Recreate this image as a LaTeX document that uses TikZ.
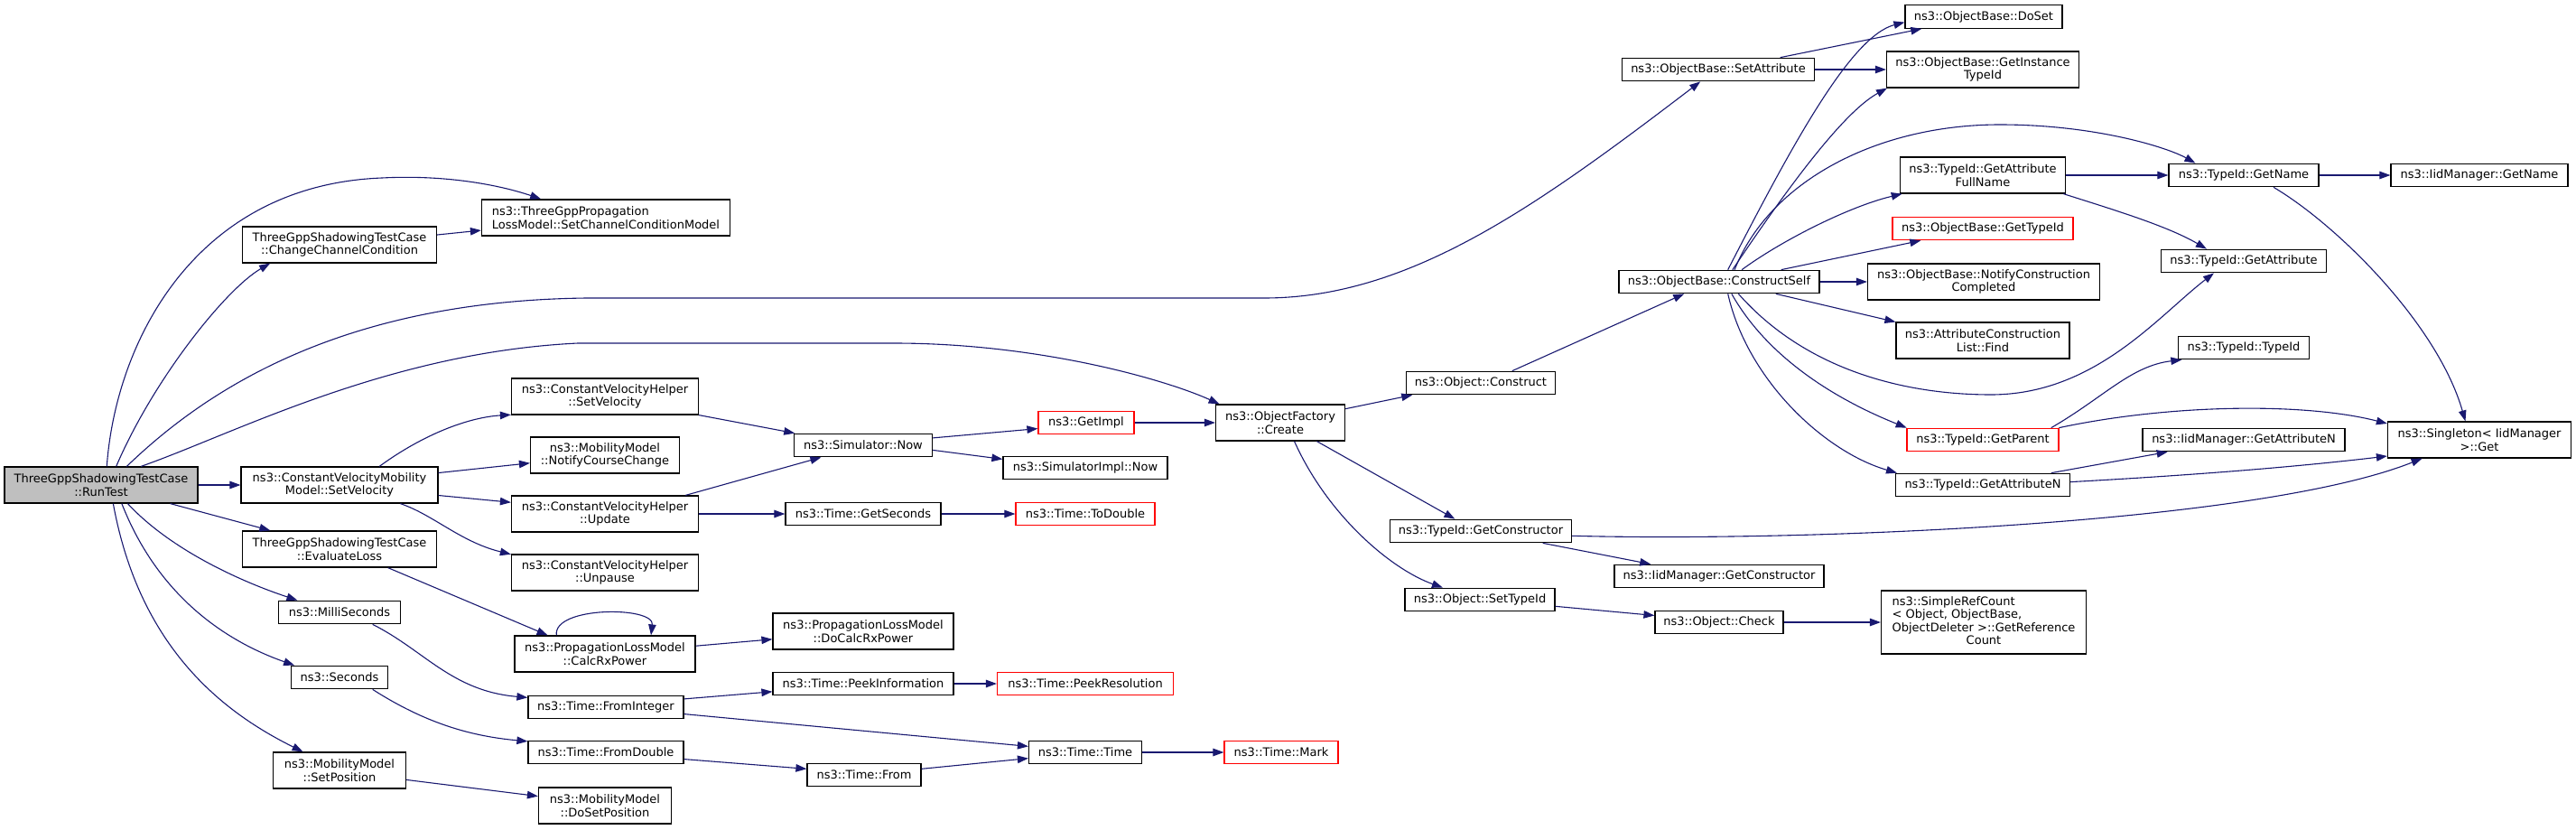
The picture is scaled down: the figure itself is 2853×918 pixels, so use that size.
\documentclass[tikz,border=0pt]{standalone}
\usepackage{fontspec}
\setmainfont{DejaVu Sans}
\usetikzlibrary{arrows.meta}
\definecolor{callblue}{RGB}{25,25,112}
\definecolor{rootgray}{RGB}{191,191,191}
\definecolor{missred}{RGB}{255,0,0}

\begin{document}
\begin{tikzpicture}[x=1pt, y=-1pt, every node/.style={font=\fontsize{13}{14.5}\selectfont}]
\tikzset{
    fnbox/.style={draw=black, line width=1.2pt, fill=white, inner xsep=2pt, inner ysep=2pt, minimum height=25.5pt, align=center},
    twoline/.style={fnbox, minimum height=40pt},
    rootfn/.style={twoline, fill=rootgray},
    missingfn/.style={fnbox, draw=missred},
    call/.style={callblue, line width=1.1pt, -{Triangle[length=12pt, width=8.5pt]}}
}
\useasboundingbox (0,0) rectangle (2853,918);

% Caller and its direct callees
\node[rootfn, minimum width=214pt] (rt) at (112,537) {ThreeGppShadowingTestCase\\::RunTest};
\node[twoline, minimum width=215pt] (ccc) at (376,271) {ThreeGppShadowingTestCase\\::ChangeChannelCondition};
\node[twoline, minimum width=218pt] (cvmm) at (376,537) {ns3::ConstantVelocityMobility\\Model::SetVelocity};
\node[twoline, minimum width=215pt] (evl) at (376,608) {ThreeGppShadowingTestCase\\::EvaluateLoss};
\node[fnbox, minimum width=135pt] (ms) at (376,678) {ns3::MilliSeconds};
\node[fnbox, minimum width=107pt] (sec) at (376,750) {ns3::Seconds};
\node[twoline, minimum width=147pt] (sp) at (376,853) {ns3::MobilityModel\\::SetPosition};

% Second level
\node[twoline, minimum width=275pt, align=left] (sccm) at (671,241) {ns3::ThreeGppPropagation\\LossModel::SetChannelConditionModel};
\node[twoline, minimum width=207pt] (cvhsv) at (670,439) {ns3::ConstantVelocityHelper\\::SetVelocity};
\node[twoline, minimum width=165pt] (ncc) at (670,504) {ns3::MobilityModel\\::NotifyCourseChange};
\node[twoline, minimum width=207pt] (cvhu) at (670,569) {ns3::ConstantVelocityHelper\\::Update};
\node[twoline, minimum width=207pt] (cvhup) at (670,634) {ns3::ConstantVelocityHelper\\::Unpause};
\node[twoline, minimum width=200pt] (crx) at (670,724) {ns3::PropagationLossModel\\::CalcRxPower};
\node[fnbox, minimum width=172pt] (fi) at (671,783) {ns3::Time::FromInteger};
\node[fnbox, minimum width=172pt] (fd) at (671,833) {ns3::Time::FromDouble};
\node[twoline, minimum width=147pt] (dsp) at (670,892) {ns3::MobilityModel\\::DoSetPosition};

% Third level
\node[fnbox, minimum width=153pt] (sn) at (956,493) {ns3::Simulator::Now};
\node[fnbox, minimum width=172pt] (gs) at (956,569) {ns3::Time::GetSeconds};
\node[twoline, minimum width=200pt] (dcrx) at (956,699) {ns3::PropagationLossModel\\::DoCalcRxPower};
\node[fnbox, minimum width=200pt] (pi) at (956,757) {ns3::Time::PeekInformation};
\node[fnbox, minimum width=126pt] (tf) at (957,858) {ns3::Time::From};

% Fourth level
\node[missingfn, minimum width=106pt] (gi) at (1203,468) {ns3::GetImpl};
\node[fnbox, minimum width=182pt] (sin) at (1202,518) {ns3::SimulatorImpl::Now};
\node[missingfn, minimum width=154pt] (td) at (1202,569) {ns3::Time::ToDouble};
\node[missingfn, minimum width=195pt] (pr) at (1202,757) {ns3::Time::PeekResolution};
\node[fnbox, minimum width=125pt] (tt) at (1202,833) {ns3::Time::Time};
\node[missingfn, minimum width=126pt] (tm) at (1419,833) {ns3::Time::Mark};
\node[twoline, minimum width=143pt] (ofc) at (1418,468) {ns3::ObjectFactory\\::Create};

% Object construction
\node[fnbox, minimum width=165pt] (oc) at (1640,424) {ns3::Object::Construct};
\node[fnbox, minimum width=201pt] (gc) at (1640,588) {ns3::TypeId::GetConstructor};
\node[fnbox, minimum width=166pt] (st) at (1639,664) {ns3::Object::SetTypeId};
\node[fnbox, minimum width=213pt] (sa) at (1903,77) {ns3::ObjectBase::SetAttribute};
\node[fnbox, minimum width=222pt] (cs) at (1904,312) {ns3::ObjectBase::ConstructSelf};
\node[fnbox, minimum width=232pt] (igc) at (1904,638) {ns3::IidManager::GetConstructor};
\node[fnbox, minimum width=142pt] (ck) at (1904,689) {ns3::Object::Check};

% ObjectBase and TypeId helpers
\node[fnbox, minimum width=174pt] (ds) at (2197,18.5) {ns3::ObjectBase::DoSet};
\node[twoline, minimum width=213pt] (git) at (2196,77) {ns3::ObjectBase::GetInstance\\TypeId};
\node[twoline, minimum width=183pt] (gafn) at (2196,194) {ns3::TypeId::GetAttribute\\FullName};
\node[missingfn, minimum width=200pt] (gtid) at (2196,253) {ns3::ObjectBase::GetTypeId};
\node[twoline, minimum width=257pt] (ncd) at (2197,312) {ns3::ObjectBase::NotifyConstruction\\Completed};
\node[twoline, minimum width=192pt] (acl) at (2196,377) {ns3::AttributeConstruction\\List::Find};
\node[missingfn, minimum width=168pt] (gp) at (2196,487) {ns3::TypeId::GetParent};
\node[fnbox, minimum width=193pt] (gan) at (2196,537) {ns3::TypeId::GetAttributeN};
\node[fnbox, minimum width=227pt, minimum height=70pt] (src) at (2197,689) {\begin{tabular}{@{}l@{}}ns3::SimpleRefCount\\< Object, ObjectBase,\\\multicolumn{1}{@{}c@{}}{ObjectDeleter >::GetReference}\\\multicolumn{1}{@{}c@{}}{Count}\end{tabular}};
\node[fnbox, minimum width=166pt] (gn) at (2485,194) {ns3::TypeId::GetName};
\node[fnbox, minimum width=183pt] (ga) at (2485,289) {ns3::TypeId::GetAttribute};
\node[fnbox, minimum width=145pt] (tid) at (2485,385) {ns3::TypeId::TypeId};
\node[fnbox, minimum width=224pt] (igan) at (2485,487) {ns3::IidManager::GetAttributeN};
\node[fnbox, minimum width=196pt] (ign) at (2746,194) {ns3::IidManager::GetName};
\node[twoline, minimum width=203pt] (sg) at (2746,487) {ns3::Singleton< IidManager\\>::Get};

% Calls out of RunTest
\draw[call] (rt.73) .. controls (128,380) and (215,205) .. (423,197) .. controls (500,193) and (560,207) .. (sccm.164);
\draw[call] (rt.51) .. controls (170,420) and (250,320) .. (ccc.195);
\draw[call] (rt.36) .. controls (230,430) and (380,333) .. (650,330) -- (1400,330) .. controls (1560,330) and (1700,230) .. (sa.214);
\draw[call] (rt.25) .. controls (260,480) and (430,390) .. (640,380) -- (990,380) .. controls (1150,380) and (1290,420) .. (ofc.163);
\draw[call] (rt) -- (cvmm);
\draw[call] (rt) -- (evl);
\draw[call] (rt.325) .. controls (190,610) and (270,645) .. (ms.164);
\draw[call] (rt.318) .. controls (175,660) and (250,710) .. (sec.165);
\draw[call] (rt.303) .. controls (155,720) and (250,790) .. (sp.153);
\draw[call] (ccc) -- (sccm);

% Mobility and time
\draw[call] (cvmm.25) .. controls (470,480) and (520,462) .. (cvhsv.191);
\draw[call] (cvmm.7) -- (ncc.186);
\draw[call] (cvmm.354) -- (cvhu.173);
\draw[call] (cvmm.343) .. controls (480,570) and (510,600) .. (cvhup.169);
\draw[call] (cvhsv.south east) -- (sn.170);
\draw[call] (cvhu.13) -- (sn.196);
\draw[call] (cvhu) -- (gs);
\draw[call] (gs) -- (td);
\draw[call] (sn.6) -- (gi.187);
\draw[call] (sn.356) -- (sin.174);
\draw[call] (gi) -- (ofc);
\draw[call] (evl.339) -- (crx.162);
\draw[call] (crx.159) .. controls (612,671) and (725,671) .. (crx.22);
\draw[call] (crx.5) -- (dcrx.185);
\draw[call] (ms.340) .. controls (470,720) and (500,765) .. (fi.173);
\draw[call] (sec.340) .. controls (470,800) and (520,815) .. (fd.172);
\draw[call] (sp.352) -- (dsp.172);
\draw[call] (fi.6) -- (pi.185);
\draw[call] (fi.355) -- (tt.174);
\draw[call] (pi) -- (pr);
\draw[call] (fd.355) -- (tf.174);
\draw[call] (tf.6) -- (tt.186);
\draw[call] (tt) -- (tm);

% Object factory
\draw[call] (ofc.12) -- (oc.190);
\draw[call] (ofc.333) -- (gc.155);
\draw[call] (ofc.307) .. controls (1470,570) and (1540,630) .. (st.162);
\draw[call] (oc.21) -- (cs.199);
\draw[call] (gc.349) -- (igc.170);
\draw[call] (gc.357) .. controls (2000,600) and (2500,580) .. (sg.198);
\draw[call] (st.355) -- (ck.174);
\draw[call] (ck) -- (src);
\draw[call] (sa.11) -- (ds.191);
\draw[call] (sa) -- (git);

% ConstructSelf
\draw[call] (cs.54) .. controls (1985,160) and (2050,40) .. (ds.184);
\draw[call] (cs.42) .. controls (1975,215) and (2040,125) .. (git.191);
\draw[call] (cs.38) .. controls (1960,200) and (2080,138) .. (2215,138) .. controls (2320,138) and (2400,163) .. (gn.166);
\draw[call] (cs.28) .. controls (1975,265) and (2050,228) .. (gafn.193);
\draw[call] (cs.11) -- (gtid.191);
\draw[call] (cs) -- (ncd);
\draw[call] (cs.348) -- (acl.168);
\draw[call] (cs.328) .. controls (2000,410) and (2110,437) .. (2205,437) .. controls (2320,437) and (2390,350) .. (ga.202);
\draw[call] (cs.316) .. controls (1960,400) and (2040,445) .. (gp.171);
\draw[call] (cs.306) .. controls (1935,420) and (2020,500) .. (gan.172);

% TypeId helpers
\draw[call] (gafn) -- (gn);
\draw[call] (gafn.347) .. controls (2340,232) and (2400,250) .. (ga.162);
\draw[call] (gn) -- (ign);
\draw[call] (gn.338) .. controls (2590,250) and (2700,360) .. (sg.127);
\draw[call] (gp.10) .. controls (2330,440) and (2360,405) .. (tid.191);
\draw[call] (gp.9) .. controls (2400,448) and (2550,445) .. (sg.170);
\draw[call] (gan.10) -- (igan.189);
\draw[call] (gan.2) .. controls (2450,525) and (2560,515) .. (sg.190);

\end{tikzpicture}
\end{document}
